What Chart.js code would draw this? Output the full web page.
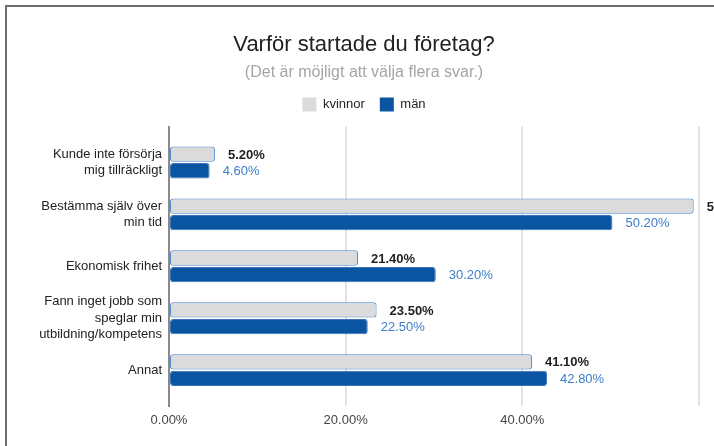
<!DOCTYPE html>
<html>
<head>
<meta charset="utf-8">
<script src="https://cdn.jsdelivr.net/npm/chart.js@4.4.1/dist/chart.umd.min.js"></script>
<style>
    html, body { margin: 0; padding: 0; background: #fff; overflow: hidden; width: 714px; height: 446px; }
    .frame { position: absolute; left: 5px; top: 5px; width: 780px; height: 500px;
             border-top: 2px solid #6e6e6e; border-left: 2px solid #6e6e6e; }
    .wrap { position: absolute; left: 5px; top: 0; width: 718px; height: 446px; }
</style>
</head>
<body>
<div class="frame"></div>
<div class="wrap"><canvas class="reasons-chart" width="718" height="446"></canvas></div>
<script>
// svar per kategori (procent)
const categories = [
    ["Kunde inte försörja", "mig tillräckligt"],
    ["Bestämma själv över", "min tid"],
    ["Ekonomisk frihet"],
    ["Fann inget jobb som", "speglar min", "utbildning/kompetens"],
    ["Annat"]
];
const kvinnor = [5.2, 59.4, 21.4, 23.5, 41.1];
const man = [4.6, 50.2, 30.2, 22.5, 42.8];
const xTicks = [0, 20, 40, 60];

const C_KVINNOR = "#dbdbdb";
const C_MAN = "#0b54a1";

Chart.defaults.font.family = "'Liberation Sans', Arial, sans-serif";
Chart.defaults.font.size = 13;
Chart.defaults.color = "#222";

// draws the value next to each bar end
const valueLabels = {
    id: "valueLabels",
    afterDatasetsDraw(chart) {
        const ctx = chart.ctx;
        ctx.save();
        chart.data.datasets.forEach((ds, di) => {
            const meta = chart.getDatasetMeta(di);
            ctx.font = (di === 0 ? "bold " : "") + "13px 'Liberation Sans', Arial, sans-serif";
            ctx.fillStyle = di === 0 ? "#1f1f1f" : "#3d7cc9";
            ctx.textAlign = "left";
            ctx.textBaseline = "middle";
            meta.data.forEach((bar, i) => {
                ctx.fillText(ds.data[i].x.toFixed(2) + "%", bar.x + 13, bar.y + 1);
            });
        });
        ctx.restore();
    }
};

const ctx = document.querySelector(".reasons-chart").getContext("2d");
new Chart(ctx, {
    type: "bar",
    data: {
        datasets: [
            {
                label: "kvinnor",
                data: kvinnor.map((v, i) => ({ x: v, y: i })),
                backgroundColor: C_KVINNOR,
                borderColor: "#4a86c8",
                borderWidth: 1,
                borderRadius: 3,
                borderSkipped: false
            },
            {
                label: "män",
                data: man.map((v, i) => ({ x: v, y: i })),
                backgroundColor: C_MAN,
                borderColor: "#3a74b8",
                borderWidth: 1,
                borderRadius: 3,
                borderSkipped: false
            }
        ]
    },
    options: {
        indexAxis: "y",
        responsive: false,
        animation: false,
        categoryPercentage: 0.64,
        barPercentage: 0.92,
        layout: { padding: { left: 24, right: 24, top: 0, bottom: 0 } },
        scales: {
            y: {
                type: "linear",
                reverse: true,
                offset: false,
                min: -0.69,
                max: 4.69,
                afterBuildTicks: s => { s.ticks = categories.map((c, i) => ({ value: i })); },
                afterFit: s => { s.width = 140; },
                grid: { display: false, drawTicks: false },
                border: { display: true, color: "#8a8a8a", width: 2 },
                ticks: {
                    padding: 7,
                    color: "#222",
                    font: { size: 13, lineHeight: 1.27 },
                    callback: v => categories[v]
                }
            },
            x: {
                type: "linear",
                min: 0,
                max: 60,
                afterBuildTicks: s => { s.ticks = xTicks.map(v => ({ value: v })); },
                afterFit: s => { s.height = 40; },
                grid: {
                    drawTicks: false,
                    lineWidth: 2,
                    color: c => (c.tick && c.tick.value === 0) ? "rgba(0,0,0,0)" : "#e3e3e3"
                },
                border: { display: false },
                ticks: {
                    padding: 7,
                    color: "#444",
                    font: { size: 13 },
                    callback: v => v === 60 ? "" : v.toFixed(2) + "%"
                }
            },
            // empty top axis, only keeps a gap between legend and plot
            gap: {
                type: "linear",
                position: "top",
                axis: "x",
                afterFit: s => { s.height = 5; },
                grid: { display: false, drawTicks: false },
                border: { display: false },
                ticks: { display: false }
            }
        },
        plugins: {
            title: {
                display: true,
                text: "Varför startade du företag?",
                color: "#222",
                font: { size: 22, weight: "normal" },
                padding: { top: 32, bottom: 5 }
            },
            subtitle: {
                display: true,
                text: "(Det är möjligt att välja flera svar.)",
                color: "#a5a5a5",
                font: { size: 16 },
                padding: { top: 0, bottom: 0 }
            },
            legend: {
                position: "top",
                labels: {
                    boxWidth: 14,
                    boxHeight: 14,
                    padding: 15,
                    color: "#222",
                    font: { size: 13 },
                    generateLabels: chart => Chart.defaults.plugins.legend.labels.generateLabels(chart)
                        .map(l => ({ ...l, lineWidth: 0 }))
                }
            },
            tooltip: { enabled: false }
        }
    },
    plugins: [valueLabels]
});
</script>
</body>
</html>
